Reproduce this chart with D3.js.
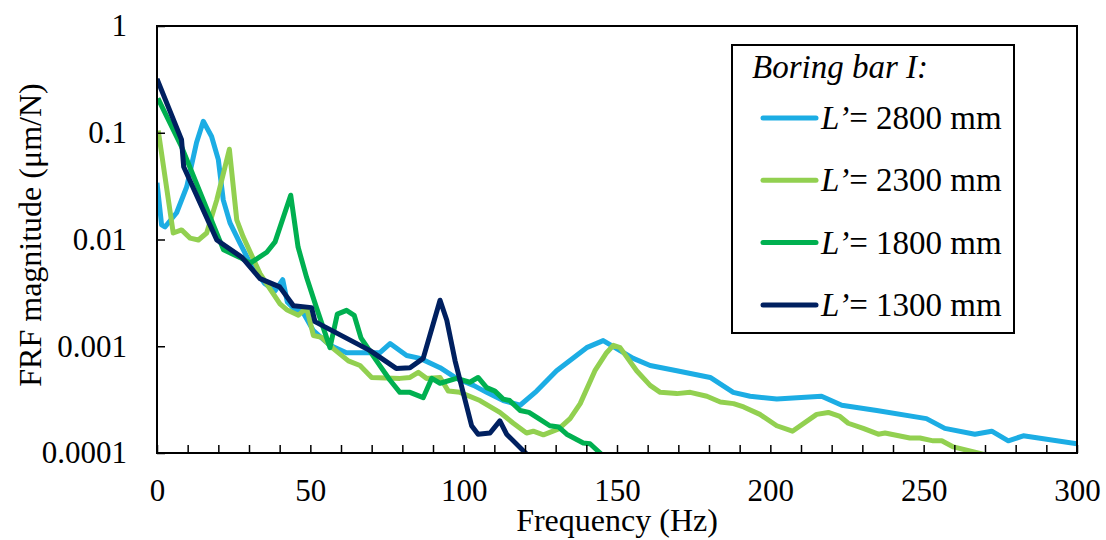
<!DOCTYPE html>
<html lang="en">
<head>
<meta charset="UTF-8">
<title>Boring bar FRF</title>
<style>
  body { margin: 0; background: #fff; }
</style>
</head>
<body>
<div id="chart"></div>
<script src="https://d3js.org/d3.v7.min.js"></script>
<script>
// L' = 2800 mm
const freq2800 = [0, 1.5, 2.6, 6.4, 9.7, 12.9, 15.1, 17.8, 20, 21.6, 23.8, 27, 30.4, 35, 38.5, 41, 42.5, 45, 47.5, 51, 56.4, 61.8, 72.7, 76, 81.4, 85.8, 92.3, 97.7, 103.2, 107.5, 112.9, 118.4, 123.8, 130.3, 140.1, 145.5, 151, 155.3, 160.8, 169.5, 180.4, 187.9, 193.4, 202.1, 216.7, 223.3, 234.7, 250.9, 256.9, 266.7, 272.2, 277.6, 282.5, 300];
const frf2800 = [0.034, 0.0137, 0.0131, 0.0178, 0.0312, 0.081, 0.128, 0.0922, 0.056, 0.0235, 0.0143, 0.0093, 0.006, 0.0039, 0.0033, 0.0042, 0.0026, 0.0022, 0.0021, 0.0014, 0.00102, 0.00087, 0.00087, 0.00106, 0.00082, 0.00077, 0.00063, 0.0005, 0.00043, 0.00037, 0.00031, 0.00028, 0.00038, 0.00059, 0.00097, 0.00113, 0.00091, 0.00077, 0.00066, 0.00059, 0.00051, 0.00037, 0.00034, 0.00032, 0.00034, 0.00028, 0.00025, 0.00021, 0.00017, 0.00015, 0.00016, 0.00013, 0.000145, 0.000122];

// L' = 2300 mm
const freq2300 = [0.4, 5.3, 8, 10.8, 13.5, 16.2, 19.5, 23.6, 26, 28.1, 33.6, 37, 40.1, 42.3, 46.1, 48.8, 51, 53.7, 57.5, 62.4, 66.2, 70, 79.2, 82.5, 85.2, 87.9, 92.3, 95, 98.8, 105.3, 111.8, 116.2, 120.5, 122.7, 126, 131, 134.7, 138, 142.8, 146.6, 148.8, 151, 156.4, 160.8, 164.1, 169.5, 173.9, 179.3, 183.7, 188, 191.3, 196.6, 202.1, 207.2, 215.1, 218.9, 222.7, 225.4, 230.3, 235.2, 237.4, 245.5, 248.8, 253.1, 255.9, 259.7, 271.6, 276];
const frf2300 = [0.105, 0.0115, 0.0123, 0.0103, 0.0099, 0.0115, 0.0235, 0.07, 0.0153, 0.0106, 0.0048, 0.0034, 0.0025, 0.0022, 0.00195, 0.0023, 0.00126, 0.00121, 0.00095, 0.00073, 0.00066, 0.00051, 0.0005, 0.00051, 0.00057, 0.0005, 0.00051, 0.00038, 0.00037, 0.00031, 0.00024, 0.00019, 0.000154, 0.00016, 0.000148, 0.000168, 0.00021, 0.00029, 0.00059, 0.00087, 0.00102, 0.00097, 0.00059, 0.00043, 0.00037, 0.00036, 0.00037, 0.00034, 0.0003, 0.00029, 0.00027, 0.00023, 0.00018, 0.00016, 0.00023, 0.00024, 0.00022, 0.00019, 0.00017, 0.00015, 0.000154, 0.000138, 0.000138, 0.00013, 0.00013, 0.000114, 0.000094, 0.00008];

// L' = 1800 mm
const freq1800 = [0.3, 8, 21.7, 27, 30.4, 35.8, 38.5, 43.6, 46, 48.8, 52, 56.4, 58.8, 61.8, 64.3, 66.5, 71.6, 76, 79.2, 82.5, 86.8, 89.6, 92.3, 97.7, 102, 104.7, 107.5, 110.2, 112.9, 115, 118.4, 121.3, 124.5, 128.1, 131, 133.6, 139, 141.2, 145.5, 148];
const frf1800 = [0.21, 0.074, 0.008, 0.0068, 0.006, 0.0076, 0.0095, 0.026, 0.0085, 0.0044, 0.0023, 0.00097, 0.002, 0.00217, 0.00195, 0.0012, 0.00073, 0.00048, 0.00037, 0.00037, 0.00033, 0.0005, 0.00045, 0.0005, 0.00046, 0.00051, 0.00041, 0.00038, 0.00032, 0.00031, 0.00025, 0.00024, 0.00021, 0.00018, 0.000175, 0.00015, 0.000124, 0.000122, 0.000094, 0.00008];

// L' = 1300 mm
const freq1300 = [0, 8, 8.7, 19.5, 27.7, 33.6, 40, 44.5, 50.4, 51.5, 69.5, 78, 82.5, 86.8, 92.3, 94.5, 97.2, 102.6, 104.7, 108.6, 111.8, 114, 120.5, 124];
const frf1300 = [0.32, 0.086, 0.048, 0.0099, 0.0068, 0.0043, 0.0036, 0.0024, 0.0023, 0.0017, 0.00091, 0.00062, 0.00063, 0.00077, 0.0027, 0.00175, 0.00073, 0.00018, 0.00015, 0.000154, 0.0002, 0.00015, 0.000098, 0.000068];

const seriesLengths = ["2800", "2300", "1800", "1300"];
const seriesColors = ["#1CADE4", "#92D050", "#00B050", "#002060"];
const xTicks = [0, 50, 100, 150, 200, 250, 300];
const yTicks = [0.0001, 0.001, 0.01, 0.1, 1];

const FONT = "Liberation Serif";

const series = [
  { f: freq2800, v: frf2800 },
  { f: freq2300, v: frf2300 },
  { f: freq1800, v: frf1800 },
  { f: freq1300, v: frf1300 }
].map((s, i) => ({
  len: seriesLengths[i],
  color: seriesColors[i],
  points: s.f.map((f, j) => ({ f: f, v: s.v[j] }))
}));

const width = 1106, height = 540;
const margin = { top: 26, right: 29, bottom: 87, left: 157 };
const plotW = width - margin.left - margin.right;
const plotH = height - margin.top - margin.bottom;

const svg = d3.select("#chart").append("svg")
  .attr("width", width)
  .attr("height", height)
  .attr("font-family", FONT);

const x = d3.scaleLinear().domain([0, 300]).range([margin.left, margin.left + plotW]);
const y = d3.scaleLog().domain([0.0001, 1]).range([margin.top + plotH, margin.top]);

// clip so the curves stop at the bottom of the plot
svg.append("clipPath").attr("id", "plot-clip")
  .append("rect")
  .attr("x", margin.left)
  .attr("y", margin.top)
  .attr("width", plotW)
  .attr("height", plotH);

const line = d3.line()
  .x(d => x(d.f))
  .y(d => y(d.v));

svg.append("g")
  .attr("clip-path", "url(#plot-clip)")
  .selectAll("path")
  .data(series)
  .enter()
  .append("path")
  .attr("d", d => line(d.points))
  .attr("fill", "none")
  .attr("stroke", d => d.color)
  .attr("stroke-width", 5)
  .attr("stroke-linejoin", "round");

// axes: ticks point inward
const xAxis = d3.axisBottom(x)
  .tickValues(d3.range(0, 301, 10))
  .tickSizeInner(-8)
  .tickSizeOuter(0)
  .tickPadding(26)
  .tickFormat(d => xTicks.includes(d) ? d : "");

const gx = svg.append("g")
  .attr("transform", `translate(0,${margin.top + plotH})`)
  .call(xAxis);

const yAxis = d3.axisLeft(y)
  .tickValues(yTicks)
  .tickSizeInner(-8)
  .tickSizeOuter(0)
  .tickPadding(30)
  .tickFormat(d => String(d));

const gy = svg.append("g")
  .attr("transform", `translate(${margin.left},0)`)
  .call(yAxis);

[gx, gy].forEach(g => {
  g.attr("font-family", FONT).attr("font-size", 31);
  g.select(".domain").remove();
  g.selectAll(".tick line").attr("stroke", "#000").attr("stroke-width", 1.5);
});

// frame
svg.append("rect")
  .attr("x", margin.left)
  .attr("y", margin.top)
  .attr("width", plotW)
  .attr("height", plotH)
  .attr("fill", "none")
  .attr("stroke", "#000")
  .attr("stroke-width", 2);

// axis titles
svg.append("text")
  .attr("x", margin.left + plotW / 2)
  .attr("y", 531)
  .attr("text-anchor", "middle")
  .attr("font-size", 32)
  .text("Frequency (Hz)");

svg.append("text")
  .attr("transform", `translate(41,235) rotate(-90)`)
  .attr("text-anchor", "middle")
  .attr("font-size", 32)
  .text("FRF magnitude (\u03bcm/N)");

// legend
const legend = svg.append("g");

legend.append("rect")
  .attr("x", 732)
  .attr("y", 45)
  .attr("width", 282)
  .attr("height", 288)
  .attr("fill", "#fff")
  .attr("stroke", "#000")
  .attr("stroke-width", 2);

legend.append("text")
  .attr("x", 752)
  .attr("y", 78)
  .attr("font-size", 33)
  .attr("font-style", "italic")
  .text("Boring bar I:");

const items = legend.selectAll(".item")
  .data(series)
  .enter()
  .append("g")
  .attr("class", "item")
  .attr("transform", (d, i) => `translate(0,${118 + i * 62.3})`);

items.append("line")
  .attr("x1", 763)
  .attr("x2", 816)
  .attr("stroke", d => d.color)
  .attr("stroke-width", 5)
  .attr("stroke-linecap", "round");

const label = items.append("text")
  .attr("x", 821)
  .attr("y", 11)
  .attr("font-size", 33);

label.append("tspan")
  .attr("font-style", "italic")
  .text("L\u2019");
label.append("tspan")
  .text(d => "= " + d.len + " mm");
</script>
</body>
</html>
